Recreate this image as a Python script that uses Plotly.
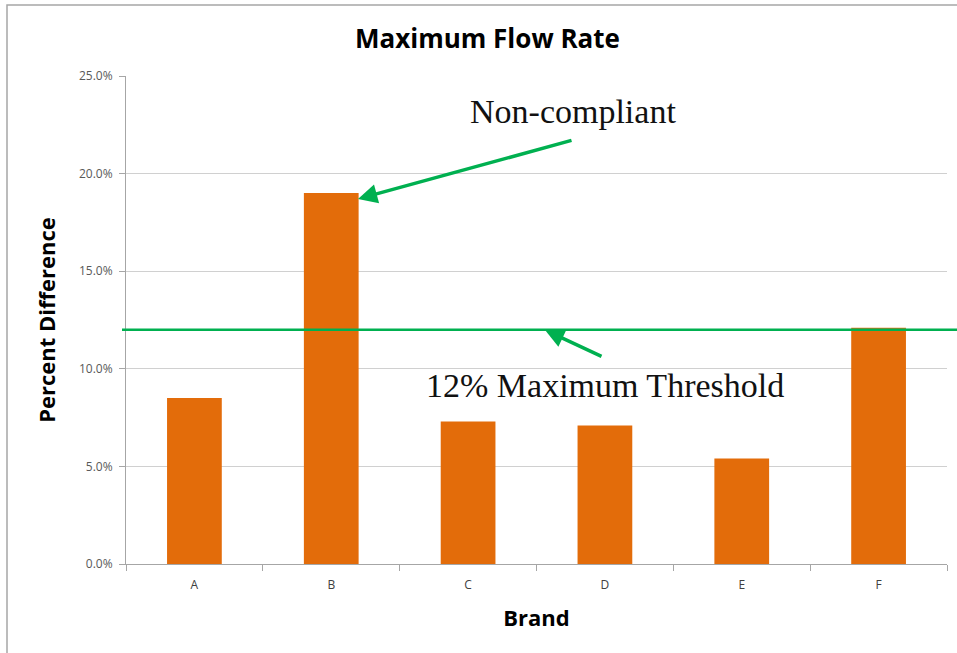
import plotly.graph_objects as go

brands = ["A", "B", "C", "D", "E", "F"]
pct_diff = [8.5, 19.0, 7.3, 7.1, 5.4, 12.1]
threshold = 12.0
y_ticks = [0, 5, 10, 15, 20, 25]
y_tick_labels = ["0.0%", "5.0%", "10.0%", "15.0%", "20.0%", "25.0%"]

W, H = 957, 653
L, R, T, B = 126, 10, 76, 89
pw, ph = W - L - R, H - T - B

def px_x(px):
    return (px - L) / pw

def px_y(py):
    return (H - B - py) / ph

fig = go.Figure()
fig.add_trace(go.Bar(x=brands, y=pct_diff, marker=dict(color="#E36C0A", line=dict(width=0)),
                     width=0.4, showlegend=False))

green = "#00B050"
shapes = [
    dict(type="line", xref="paper", yref="y", x0=px_x(122), x1=px_x(957), y0=threshold, y1=threshold,
         line=dict(color=green, width=2.5), layer="above"),
    dict(type="rect", xref="paper", yref="paper", x0=px_x(7), x1=px_x(1000), y0=px_y(700), y1=px_y(5),
         line=dict(color="#A6A6A6", width=1.5), layer="below"),
]

annotations = [
    dict(text="<b>Maximum Flow Rate</b>", xref="paper", yref="paper", x=px_x(487), y=px_y(38),
         xanchor="center", yanchor="middle",
         showarrow=False, font=dict(family="Open Sans", size=26, color="#000000")),
    dict(text="Non-compliant", xref="paper", yref="paper", x=px_x(573), y=px_y(112),
         xanchor="center", yanchor="middle",
         showarrow=False, font=dict(family="Liberation Serif", size=34, color="#111111")),
    dict(text="12% Maximum Threshold", xref="paper", yref="paper", x=px_x(605), y=px_y(385),
         xanchor="center", yanchor="middle",
         showarrow=False, font=dict(family="Liberation Serif", size=34, color="#111111")),
    dict(text="", xref="paper", yref="paper", x=px_x(358), y=px_y(199), ax=215, ay=-59,
         showarrow=True, arrowhead=2, arrowsize=1.1, arrowwidth=3.5, arrowcolor=green),
    dict(text="", xref="paper", yref="paper", x=px_x(545), y=px_y(330), ax=58, ay=27,
         showarrow=True, arrowhead=2, arrowsize=1.1, arrowwidth=3.5, arrowcolor=green),
]

fig.update_layout(
    width=W, height=H,
    margin=dict(l=L, r=R, t=T, b=B),
    paper_bgcolor="white", plot_bgcolor="white",
    shapes=shapes, annotations=annotations,
    bargap=0.6,
    font=dict(family="Open Sans", color="#595959"),
)
fig.update_xaxes(
    type="category", showgrid=False, showline=True, linecolor="#A6A6A6", linewidth=1,
    ticks="outside", tickson="boundaries", ticklen=6, tickcolor="#A6A6A6",
    ticklabelstandoff=10,
    tickfont=dict(size=12, color="#404040"),
    title=dict(text="<b>Brand</b>", font=dict(size=22, color="#000000"), standoff=18),
)
fig.update_yaxes(
    range=[0, 25], tickvals=y_ticks, ticktext=y_tick_labels,
    showgrid=True, gridcolor="#D0D0D0", gridwidth=1,
    showline=True, linecolor="#A6A6A6", linewidth=1,
    ticks="outside", ticklen=6, tickcolor="#A6A6A6",
    ticklabelstandoff=4,
    tickfont=dict(size=12, color="#595959"), zeroline=False,
    title=dict(text="<b>Percent Difference</b>", font=dict(size=22, color="#000000"), standoff=17),
)

fig.write_html("out.html", config={"displayModeBar": False},
               post_script="document.body.style.margin='0';document.body.style.overflow='hidden';")
